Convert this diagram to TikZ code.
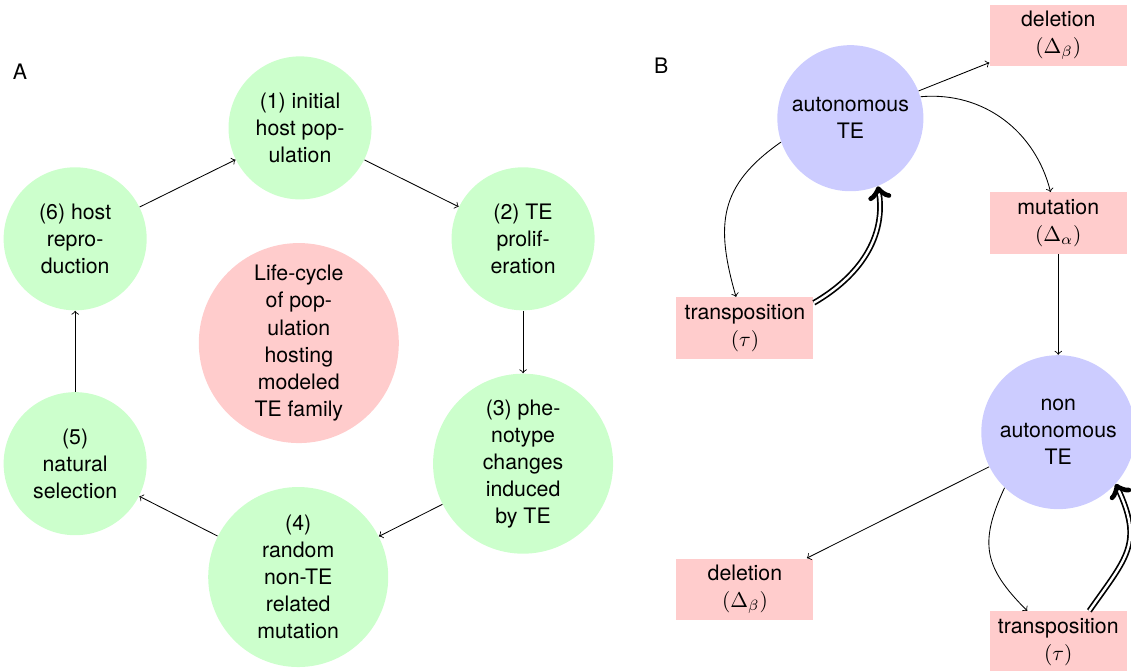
\documentclass[tikz,border=0pt]{standalone}
\usepackage{fontspec}
\setmainfont{TeX Gyre Heros}
\usepackage{xcolor}

\begin{document}
\begin{tikzpicture}[every node/.style={font=\fontsize{10}{12.7}\selectfont},
  stage/.style={circle,fill=stagegreen,minimum size=2.36cm,align=center,inner sep=0pt},
  bigstage/.style={stage,minimum size=2.97cm},
  tenode/.style={circle,fill=teblue,align=center,inner sep=0pt},
  tebox/.style={rectangle,fill=tered,minimum width=2.26cm,minimum height=1.01cm,align=center,inner sep=0pt},
  dbl/.style={->,double,line width=0.8pt,double distance=1.1pt}]
\definecolor{stagegreen}{HTML}{CCFFCC}
\definecolor{tered}{HTML}{FFCCCC}
\definecolor{teblue}{HTML}{CCCCFF}
\useasboundingbox (0,0) rectangle (18.66,11.07);

% A: life-cycle
\node (labA) at (0.33,9.88) {A};
\node [stage] (n1) at (4.95,8.96) {(1) initial\\host pop-\\ulation};
\node [stage] (n2) at (8.63,7.13) {(2) TE\\prolif-\\eration};
\node [bigstage] (n3) at (8.63,3.42) {(3) phe-\\notype\\changes\\induced\\by TE};
\node [bigstage] (n4) at (4.92,1.55) {(4)\\random\\non-TE\\related\\mutation};
\node [stage] (n5) at (1.24,3.42) {(5)\\natural\\selection};
\node [stage] (n6) at (1.24,7.13) {(6) host\\repro-\\duction};
\node [circle,fill=tered,minimum size=3.3cm,align=center,inner sep=0pt] (cycle) at (4.93,5.41)
  {Life-cycle\\of pop-\\ulation\\hosting\\modeled\\TE family};
\foreach \from/\to in {n1/n2,n2/n3,n3/n4,n4/n5,n5/n6,n6/n1}
  {\draw [->] (\from) -- (\to);}

% B: TE dynamics
\node (labB) at (10.91,9.98) {B};
\node [tenode,minimum size=2.41cm] (aut) at (14.03,9.12) {autonomous\\TE};
\node [tenode,minimum size=2.54cm] (nonaut) at (17.46,3.94) {non\\autonomous\\TE};
\node [tebox] (del1) at (17.46,10.49) {deletion\\$(\Delta_\beta)$};
\node [tebox] (mut) at (17.46,7.39) {mutation\\$(\Delta_\alpha)$};
\node [tebox] (tr1) at (12.29,5.66) {transposition\\$(\tau)$};
\node [tebox] (del2) at (12.29,1.35) {deletion\\$(\Delta_\beta)$};
\node [tebox] (tr2) at (17.46,0.48) {transposition\\$(\tau)$};

\draw [->] (aut) -- (del1);
\draw [->] (aut.17) to[out=5,in=104] (mut);
\draw [->] (mut) -- (nonaut);
\draw [->] (nonaut) -- (del2);
\draw [->] (aut.199) to[out=215,in=106,looseness=1.2] (tr1);
\draw [dbl] (tr1.20) to[out=30,in=-80] (aut.-68);
\draw [->] (nonaut.226) to[out=245,in=135,looseness=1.25] (tr2);
\draw [dbl] (tr2.45) to[out=55,in=-65,looseness=1.3] (nonaut.-42);
\end{tikzpicture}
\end{document}
